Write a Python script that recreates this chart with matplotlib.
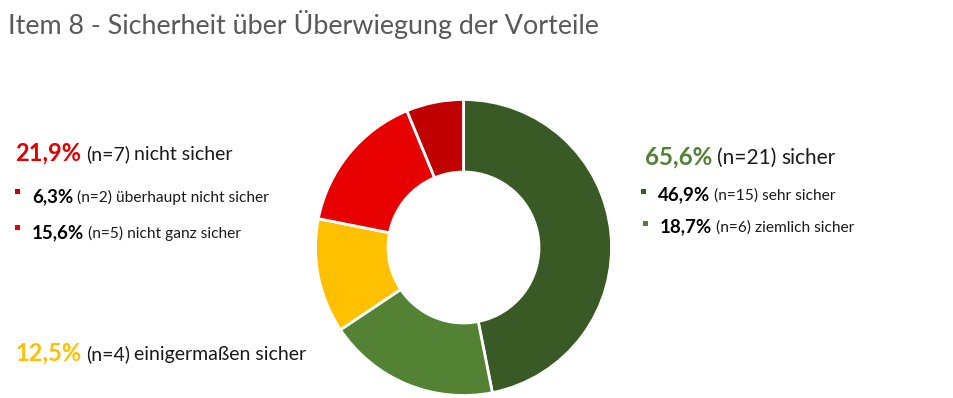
import matplotlib.pyplot as plt
from matplotlib.transforms import IdentityTransform
from matplotlib.patches import Rectangle

W, H = 954, 398

title = "Item 8 - Sicherheit über Überwiegung der Vorteile"

categories = ["sehr sicher", "ziemlich sicher", "einigermaßen sicher",
              "nicht ganz sicher", "überhaupt nicht sicher"]
counts = [15, 6, 4, 5, 2]
pct_labels = ["46,9%", "18,7%", "12,5%", "15,6%", "6,3%"]
colors = ["#3A5A25", "#548235", "#FFC000", "#E60000", "#C00000"]

group_sicher = ("65,6%", 21, "sicher")
group_nicht = ("21,9%", 7, "nicht sicher")

FONT = "Lato"

plt.rcParams['font.family'] = [FONT, 'DejaVu Sans']

fig = plt.figure(figsize=(W / 100, H / 100), dpi=100)
renderer = fig.canvas.get_renderer()


def put_parts(x, y, parts):
    # y is baseline measured from top of image in pixels
    for txt, size, weight, color in parts:
        t = fig.text(x, H - y, txt, fontsize=size, fontweight=weight, color=color,
                     transform=IdentityTransform(), va='baseline', ha='left')
        bb = t.get_window_extent(renderer)
        x = bb.x1 + size * 0.3


def bullet(x, y, color, s=5):
    fig.patches.append(Rectangle((x, H - y - s), s, s, facecolor=color,
                                 edgecolor='none', transform=IdentityTransform()))


fig.text(8, H - 34, title, fontsize=19.4, color="#595959",
         transform=IdentityTransform(), va='baseline', ha='left')

# donut
cx, cy, R = 463.5, 247.5, 148
ax = fig.add_axes([(cx - R) / W, (H - cy - R) / H, 2 * R / W, 2 * R / H])
ax.pie(counts, colors=colors, startangle=90, counterclock=False, radius=1,
       wedgeprops=dict(width=0.49, edgecolor='white', linewidth=2))
ax.set_xlim(-1, 1)
ax.set_ylim(-1, 1)
ax.axis('off')

# left group
put_parts(15, 160, [(group_nicht[0], 17, 'bold', "#E00000"),
                    (f"(n={group_nicht[1]})", 14, 'normal', "#1a1a1a"),
                    (group_nicht[2], 14, 'normal', "#1a1a1a")])
for i, yb in [(4, 202), (3, 238)]:
    bullet(15, yb - 13, colors[i])
    put_parts(32, yb, [(pct_labels[i], 13.5, 'bold', "black"),
                       (f"(n={counts[i]}) {categories[i]}", 11.2, 'normal', "#1a1a1a")])

put_parts(15, 360, [(pct_labels[2], 17, 'bold', "#FFC000"),
                    (f"(n={counts[2]})", 14, 'normal', "#1a1a1a"),
                    (categories[2], 14, 'normal', "#1a1a1a")])

# right group
put_parts(645, 164, [(group_sicher[0], 17.4, 'bold', "#548235"),
                     (f"(n={group_sicher[1]})", 15, 'normal', "#1a1a1a"),
                     (group_sicher[2], 15, 'normal', "#1a1a1a")])
for i, xb, yb in [(0, 641, 200), (1, 643, 232)]:
    bullet(xb, yb - 11, colors[i])
    put_parts(xb + 17, yb, [(pct_labels[i], 13.5, 'bold', "black"),
                            (f"(n={counts[i]}) {categories[i]}", 11.2, 'normal', "#1a1a1a")])

fig.savefig("out.png", dpi=100)
